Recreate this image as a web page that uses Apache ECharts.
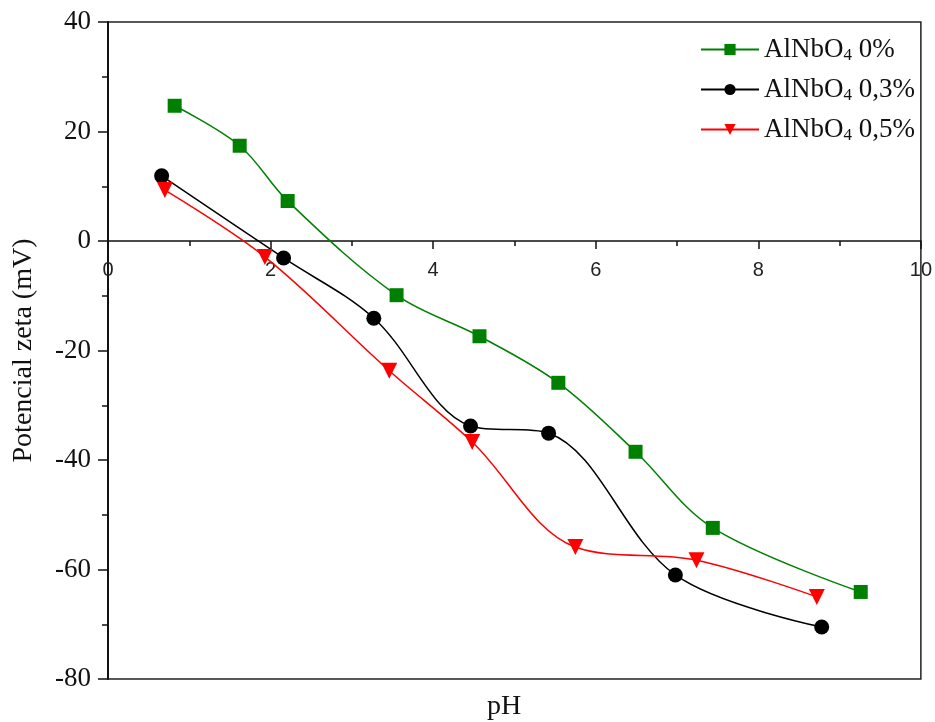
<!DOCTYPE html>
<html>
<head>
<meta charset="utf-8">
<script src="https://cdn.jsdelivr.net/npm/echarts@6/dist/echarts.min.js"></script>
<style>
	html,body{margin:0;padding:0;background:#fff;}
	#chart{width:935px;height:722px;}
</style>
</head>
<body>
<div id="chart"></div>
<script>
	// AlNbO4 0%
	var ph0 = [0.82, 1.62, 2.21, 3.55, 4.57, 5.54, 6.49, 7.44, 9.26];
	var zeta0 = [24.7, 17.4, 7.3, -9.9, -17.4, -25.9, -38.5, -52.4, -64.1];
	// AlNbO4 0,3%
	var ph3 = [0.66, 2.16, 3.27, 4.46, 5.42, 6.98, 8.78];
	var zeta3 = [11.9, -3.1, -14.1, -33.8, -35.1, -61.0, -70.5];
	// AlNbO4 0,5%
	var ph5 = [0.70, 1.93, 3.46, 4.48, 5.75, 7.24, 8.72];
	var zeta5 = [9.3, -2.9, -23.7, -36.7, -55.9, -58.3, -65.0];

	var names = ['AlNbO4 0%', 'AlNbO4 0,3%', 'AlNbO4 0,5%'];
	var legendText = {
		'AlNbO4 0%': 'AlNbO{s|4} 0%',
		'AlNbO4 0,3%': 'AlNbO{s|4} 0,3%',
		'AlNbO4 0,5%': 'AlNbO{s|4} 0,5%'
	};

	function pairs(xs, ys){
		var out = [];
		for(var i = 0; i < xs.length; i++){
			out.push([xs[i], ys[i]]);
		}
		return out;
	}

	var serif = '"Liberation Serif", "Times New Roman", serif';
	var chart = echarts.init(document.getElementById('chart'));
	chart.setOption({
		animation: false,
		title: {
			text: 'pH',
			left: 482,
			top: 688,
			textStyle: {fontFamily: serif, fontSize: 28, fontWeight: 'normal', color: '#111'}
		},
		grid: {
			left: 108, top: 22, right: 12, bottom: 43,
			show: true,
			borderColor: '#222',
			borderWidth: 1.5
		},
		legend: {
			orient: 'vertical',
			right: 15,
			top: 31,
			itemGap: 12,
			itemWidth: 58,
			itemHeight: 14,
			data: names,
			formatter: function(name){
				return legendText[name];
			},
			textStyle: {
				fontFamily: serif,
				fontSize: 27,
				color: '#111',
				rich: {
					s: {fontFamily: serif, fontSize: 17, padding: [12, 0, 0, 0], color: '#111'}
				}
			}
		},
		xAxis: {
			type: 'value',
			min: 0,
			max: 10,
			interval: 2,
			// axis drawn at y = 0, labels follow it
			offset: -438,
			axisLine: {onZero: false, lineStyle: {color: '#111', width: 1.5}},
			axisTick: {inside: false, length: 8, lineStyle: {color: '#111', width: 1.5}},
			minorTick: {show: true, splitNumber: 2, length: 5, lineStyle: {color: '#111', width: 1.5}},
			splitLine: {show: false},
			axisLabel: {fontFamily: '"Liberation Sans", Arial, sans-serif', fontSize: 20, color: '#222', margin: 19}
		},
		yAxis: {
			type: 'value',
			min: -80,
			max: 40,
			interval: 20,
			name: 'Potencial zeta (mV)',
			nameLocation: 'middle',
			nameGap: 70,
			nameTextStyle: {fontFamily: serif, fontSize: 28, color: '#111'},
			axisLine: {show: true, lineStyle: {color: '#111', width: 2}},
			axisTick: {inside: false, length: 10, lineStyle: {color: '#111', width: 1.5}},
			minorTick: {show: true, splitNumber: 2, length: 6, lineStyle: {color: '#111', width: 1.5}},
			splitLine: {show: false},
			axisLabel: {fontFamily: serif, fontSize: 27, color: '#111', margin: 17}
		},
		series: [{
			name: names[0],
			type: 'line',
			smooth: 0.35,
			data: pairs(ph0, zeta0),
			symbol: 'rect',
			symbolSize: 14,
			color: '#008000',
			lineStyle: {width: 1.5},
			itemStyle: {color: '#008000'}
		}, {
			name: names[1],
			type: 'line',
			smooth: 0.35,
			data: pairs(ph3, zeta3),
			symbol: 'circle',
			symbolSize: 15,
			color: '#000',
			lineStyle: {width: 1.5},
			itemStyle: {color: '#000'}
		}, {
			name: names[2],
			type: 'line',
			smooth: 0.35,
			data: pairs(ph5, zeta5),
			symbol: 'triangle',
			symbolRotate: 180,
			symbolSize: 16,
			color: '#ff0000',
			lineStyle: {width: 1.5},
			itemStyle: {color: '#ff0000'}
		}]
	});
</script>
</body>
</html>
